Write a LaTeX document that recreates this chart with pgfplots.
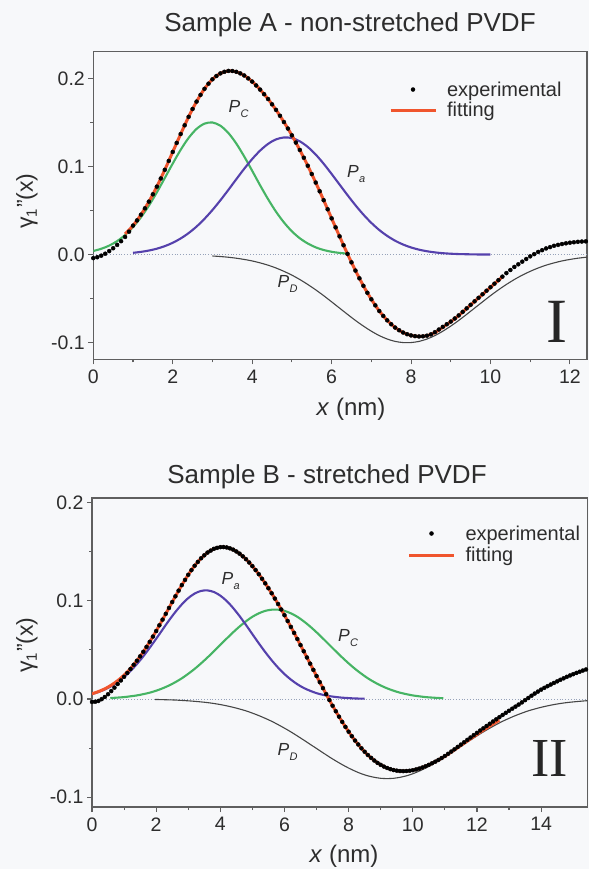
\documentclass[border=0pt]{standalone}
\usepackage{pgfplots}
\pgfplotsset{compat=1.18}
\usepackage{pgfplotstable}
\usepackage{fontspec}
\setmainfont{Liberation Sans}
\newfontfamily\romanfont{Liberation Serif}
\definecolor{bg}{RGB}{247,248,250}
\definecolor{axisgrey}{RGB}{95,95,95}
\definecolor{txt}{RGB}{45,45,45}
\definecolor{pcgreen}{RGB}{70,180,100}
\definecolor{pablue}{RGB}{85,65,172}
\definecolor{fitred}{RGB}{240,85,45}
\definecolor{pdgrey}{RGB}{70,70,70}
\definecolor{zerogrey}{RGB}{150,162,185}
\newcommand\Plab[1]{{\fontsize{17.5}{19}\selectfont\itshape P\kern0.3pt\raisebox{-5pt}{\fontsize{11}{12}\selectfont #1}}}

\pgfplotstableread{
x y
0.0 -0.0040
0.1 -0.0030
0.2 -0.0012
0.3 0.0010
0.4 0.0040
0.5 0.0072
0.6 0.0110
0.7 0.0152
0.8 0.0200
0.9 0.0260
1.0 0.0329
1.1 0.0388
1.2 0.0453
1.3 0.0525
1.4 0.0601
1.5 0.0684
1.6 0.0771
1.7 0.0864
1.8 0.0962
1.9 0.1063
2.0 0.1165
2.1 0.1267
2.2 0.1368
2.3 0.1467
2.4 0.1563
2.5 0.1652
2.6 0.1736
2.7 0.1812
2.8 0.1881
2.9 0.1939
3.0 0.1989
3.1 0.2026
3.2 0.2056
3.3 0.2074
3.4 0.2084
3.5 0.2083
3.6 0.2074
3.7 0.2056
3.8 0.2032
3.9 0.1999
4.0 0.1963
4.1 0.1919
4.2 0.1872
4.3 0.1820
4.4 0.1765
4.5 0.1705
4.6 0.1642
4.7 0.1575
4.8 0.1504
4.9 0.1430
5.0 0.1353
5.1 0.1271
5.2 0.1187
5.3 0.1099
5.4 0.1008
5.5 0.0914
5.6 0.0817
5.7 0.0718
5.8 0.0617
5.9 0.0514
6.0 0.0411
6.1 0.0309
6.2 0.0207
6.3 0.0106
6.4 0.0008
6.5 -0.0088
6.6 -0.0181
6.7 -0.0269
6.8 -0.0354
6.9 -0.0433
7.0 -0.0507
7.1 -0.0576
7.2 -0.0640
7.3 -0.0696
7.4 -0.0746
7.5 -0.0790
7.6 -0.0828
7.7 -0.0858
7.8 -0.0884
7.9 -0.0903
8.0 -0.0917
8.1 -0.0925
8.2 -0.0929
8.3 -0.0927
8.4 -0.0920
8.5 -0.0905
8.6 -0.0880
8.7 -0.0850
8.8 -0.0820
8.9 -0.0790
9.0 -0.0760
9.1 -0.0725
9.2 -0.0690
9.3 -0.0650
9.4 -0.0610
9.5 -0.0570
9.6 -0.0530
9.7 -0.0490
9.8 -0.0450
9.9 -0.0410
10.0 -0.0370
10.1 -0.0330
10.2 -0.0290
10.3 -0.0250
10.4 -0.0210
10.5 -0.0175
10.6 -0.0140
10.7 -0.0110
10.8 -0.0080
10.9 -0.0050
11.0 -0.0020
11.1 0.0005
11.2 0.0030
11.3 0.0050
11.4 0.0070
11.5 0.0085
11.6 0.0100
11.7 0.0110
11.8 0.0120
11.9 0.0128
12.0 0.0135
12.1 0.0140
12.2 0.0145
12.3 0.0148
12.4 0.0150
}\Aexp

\pgfplotstableread{
x y
0.8 0.0235
1.0 0.0329
1.2 0.0453
1.4 0.0601
1.6 0.0771
1.8 0.0962
2.0 0.1165
2.2 0.1368
2.4 0.1563
2.6 0.1736
2.8 0.1881
3.0 0.1989
3.2 0.2056
3.4 0.2084
3.6 0.2074
3.8 0.2032
4.0 0.1963
4.2 0.1872
4.4 0.1765
4.6 0.1642
4.8 0.1504
5.0 0.1353
5.2 0.1187
5.4 0.1008
5.6 0.0817
5.8 0.0617
6.0 0.0411
6.2 0.0207
6.4 0.0008
6.6 -0.0181
6.8 -0.0354
7.0 -0.0507
7.2 -0.0640
7.4 -0.0746
7.6 -0.0828
7.8 -0.0884
8.0 -0.0917
8.2 -0.0929
8.4 -0.0920
8.6 -0.0885
8.8 -0.0825
9.0 -0.0762
9.2 -0.0692
9.4 -0.0612
9.6 -0.0532
9.8 -0.0452
10.0 -0.0372
10.2 -0.0292
10.3 -0.0252
}\Afit

\pgfplotstableread{
x y
0 0.0041
0.2 0.0066
0.4 0.0102
0.6 0.0153
0.8 0.0222
1.0 0.0312
1.2 0.0423
1.4 0.0556
1.6 0.0706
1.8 0.0869
2.0 0.1033
2.2 0.1189
2.4 0.1324
2.6 0.1426
2.8 0.1486
3.0 0.1499
3.2 0.1462
3.4 0.1380
3.6 0.1260
3.8 0.1113
4.0 0.0951
4.2 0.0786
4.4 0.0629
4.6 0.0487
4.8 0.0365
5.0 0.0264
5.2 0.0185
5.4 0.0126
5.6 0.0082
5.8 0.0052
6.0 0.0032
6.2 0.0019
6.45 0.0009
}\APc

\pgfplotstableread{
x y
1.0 0.0020
1.2 0.0031
1.4 0.0046
1.6 0.0067
1.8 0.0096
2.0 0.0134
2.2 0.0183
2.4 0.0244
2.6 0.0318
2.8 0.0406
3.0 0.0506
3.2 0.0616
3.4 0.0734
3.6 0.0855
3.8 0.0974
4.0 0.1084
4.2 0.1180
4.4 0.1256
4.6 0.1307
4.8 0.1329
5.0 0.1322
5.2 0.1285
5.4 0.1221
5.6 0.1135
5.8 0.1031
6.0 0.0915
6.2 0.0795
6.4 0.0675
6.6 0.0560
6.8 0.0454
7.0 0.0360
7.2 0.0279
7.4 0.0212
7.6 0.0157
7.8 0.0114
8.0 0.0081
8.2 0.0056
8.4 0.0038
8.6 0.0025
8.8 0.0016
9.0 0.0010
9.2 0.0006
9.4 0.0004
9.6 0.0002
9.8 0.0001
10.0 0.0001
}\APa

\pgfplotstableread{
x y
3.0 -0.0016
3.2 -0.0022
3.4 -0.0030
3.6 -0.0041
3.8 -0.0055
4.0 -0.0072
4.2 -0.0094
4.4 -0.0120
4.6 -0.0152
4.8 -0.0190
5.0 -0.0233
5.2 -0.0283
5.4 -0.0339
5.6 -0.0400
5.8 -0.0466
6.0 -0.0536
6.2 -0.0607
6.4 -0.0678
6.6 -0.0747
6.8 -0.0811
7.0 -0.0869
7.2 -0.0919
7.4 -0.0958
7.6 -0.0985
7.8 -0.0998
8.0 -0.0998
8.2 -0.0985
8.4 -0.0958
8.6 -0.0919
8.8 -0.0869
9.0 -0.0811
9.2 -0.0747
9.4 -0.0678
9.6 -0.0607
9.8 -0.0536
10.0 -0.0466
10.2 -0.0400
10.4 -0.0339
10.6 -0.0283
10.8 -0.0233
11.0 -0.0190
11.2 -0.0152
11.4 -0.0120
11.6 -0.0094
11.8 -0.0072
12.0 -0.0055
12.2 -0.0041
12.45 -0.0028
}\APD

\pgfplotstableread{
x y
0.0 -0.0030
0.1 -0.0028
0.2 -0.0020
0.3 -0.0002
0.4 0.0020
0.5 0.0048
0.6 0.0080
0.7 0.0115
0.8 0.0152
0.9 0.0188
1.0 0.0225
1.1 0.0264
1.2 0.0305
1.3 0.0348
1.4 0.0389
1.5 0.0433
1.6 0.0480
1.7 0.0530
1.8 0.0581
1.9 0.0635
2.0 0.0691
2.1 0.0749
2.2 0.0807
2.3 0.0866
2.4 0.0926
2.5 0.0986
2.6 0.1044
2.7 0.1102
2.8 0.1158
2.9 0.1211
3.0 0.1263
3.1 0.1310
3.2 0.1355
3.3 0.1394
3.4 0.1431
3.5 0.1461
3.6 0.1489
3.7 0.1509
3.8 0.1527
3.9 0.1537
4.0 0.1544
4.1 0.1545
4.2 0.1541
4.3 0.1532
4.4 0.1519
4.5 0.1500
4.6 0.1478
4.7 0.1451
4.8 0.1422
4.9 0.1388
5.0 0.1351
5.1 0.1311
5.2 0.1269
5.3 0.1223
5.4 0.1176
5.5 0.1126
5.6 0.1075
5.7 0.1021
5.8 0.0966
5.9 0.0910
6.0 0.0852
6.1 0.0793
6.2 0.0733
6.3 0.0672
6.4 0.0610
6.5 0.0548
6.6 0.0485
6.7 0.0422
6.8 0.0359
6.9 0.0296
7.0 0.0233
7.1 0.0171
7.2 0.0110
7.3 0.0049
7.4 -0.0011
7.5 -0.0069
7.6 -0.0125
7.7 -0.0180
7.8 -0.0233
7.9 -0.0284
8.0 -0.0333
8.1 -0.0379
8.2 -0.0423
8.3 -0.0463
8.4 -0.0502
8.5 -0.0537
8.6 -0.0570
8.7 -0.0599
8.8 -0.0626
8.9 -0.0650
9.0 -0.0670
9.1 -0.0688
9.2 -0.0702
9.3 -0.0714
9.4 -0.0723
9.5 -0.0729
9.6 -0.0733
9.7 -0.0734
9.8 -0.0733
9.9 -0.0730
10.0 -0.0725
10.1 -0.0717
10.2 -0.0708
10.3 -0.0697
10.4 -0.0684
10.5 -0.0670
10.6 -0.0654
10.7 -0.0638
10.8 -0.0620
10.9 -0.0601
11.0 -0.0580
11.1 -0.0558
11.2 -0.0535
11.3 -0.0512
11.4 -0.0488
11.5 -0.0464
11.6 -0.0440
11.7 -0.0416
11.8 -0.0392
11.9 -0.0368
12.0 -0.0345
12.1 -0.0321
12.2 -0.0298
12.3 -0.0275
12.4 -0.0252
12.5 -0.0229
12.6 -0.0207
12.7 -0.0185
12.8 -0.0163
12.9 -0.0141
13.0 -0.0120
13.1 -0.0099
13.2 -0.0078
13.3 -0.0057
13.4 -0.0035
13.5 -0.0012
13.6 0.0010
13.7 0.0033
13.8 0.0055
13.9 0.0075
14.0 0.0095
14.1 0.0113
14.2 0.0130
14.3 0.0147
14.4 0.0163
14.5 0.0179
14.6 0.0195
14.7 0.0210
14.8 0.0225
14.9 0.0239
15.0 0.0252
15.1 0.0265
15.2 0.0277
15.3 0.0289
15.4 0.0300
}\Bexp

\pgfplotstableread{
x y
0.0 0.0053
0.2 0.0075
0.4 0.0103
0.6 0.0140
0.8 0.0186
1.0 0.0242
1.2 0.0310
1.4 0.0389
1.6 0.0480
1.8 0.0581
2.0 0.0691
2.2 0.0807
2.4 0.0926
2.6 0.1044
2.8 0.1158
3.0 0.1263
3.2 0.1355
3.4 0.1431
3.6 0.1489
3.8 0.1527
4.0 0.1544
4.2 0.1541
4.4 0.1519
4.6 0.1478
4.8 0.1422
5.0 0.1351
5.2 0.1269
5.4 0.1176
5.6 0.1075
5.8 0.0966
6.0 0.0852
6.2 0.0733
6.4 0.0610
6.6 0.0485
6.8 0.0359
7.0 0.0233
7.2 0.0110
7.4 -0.0011
7.6 -0.0125
7.8 -0.0233
8.0 -0.0333
8.2 -0.0423
8.4 -0.0502
8.6 -0.0570
8.8 -0.0626
9.0 -0.0670
9.2 -0.0702
9.4 -0.0723
9.6 -0.0733
9.8 -0.0733
10.0 -0.0725
10.2 -0.0708
10.4 -0.0684
10.6 -0.0654
10.8 -0.0620
11.0 -0.0583
11.2 -0.0540
11.4 -0.0495
11.6 -0.0450
11.8 -0.0405
12.0 -0.0360
12.2 -0.0317
12.4 -0.0275
12.6 -0.0235
12.7 -0.0216
}\Bfit

\pgfplotstableread{
x y
0.0 0.0050
0.2 0.0070
0.4 0.0097
0.6 0.0130
0.8 0.0172
1.0 0.0224
1.2 0.0285
1.4 0.0355
1.6 0.0434
1.8 0.0521
2.0 0.0612
2.2 0.0706
2.4 0.0799
2.6 0.0885
2.8 0.0962
3.0 0.1026
3.2 0.1072
3.4 0.1099
3.6 0.1104
3.8 0.1088
4.0 0.1051
4.2 0.0996
4.4 0.0925
4.6 0.0843
4.8 0.0753
5.0 0.0659
5.2 0.0566
5.4 0.0477
5.6 0.0394
5.8 0.0319
6.0 0.0253
6.2 0.0197
6.4 0.0150
6.6 0.0112
6.8 0.0083
7.0 0.0059
7.2 0.0042
7.4 0.0029
7.6 0.0020
7.8 0.0013
8.0 0.0009
8.2 0.0005
8.5 0.0003
}\BPa

\pgfplotstableread{
x y
0.57 0.0009
0.8 0.0014
1.0 0.0019
1.2 0.0027
1.4 0.0036
1.6 0.0049
1.8 0.0064
2.0 0.0084
2.2 0.0108
2.4 0.0137
2.6 0.0171
2.8 0.0210
3.0 0.0256
3.2 0.0306
3.4 0.0362
3.6 0.0422
3.8 0.0485
4.0 0.0550
4.2 0.0615
4.4 0.0678
4.6 0.0737
4.8 0.0790
5.0 0.0836
5.2 0.0871
5.4 0.0896
5.6 0.0908
5.8 0.0908
6.0 0.0896
6.2 0.0871
6.4 0.0836
6.6 0.0790
6.8 0.0737
7.0 0.0678
7.2 0.0615
7.4 0.0550
7.6 0.0485
7.8 0.0422
8.0 0.0362
8.2 0.0306
8.4 0.0256
8.6 0.0210
8.8 0.0171
9.0 0.0137
9.2 0.0108
9.4 0.0084
9.6 0.0064
9.8 0.0049
10.0 0.0036
10.2 0.0027
10.4 0.0019
10.6 0.0014
10.8 0.0010
10.95 0.0007
}\BPc

\pgfplotstableread{
x y
1.97 -0.0005
2.2 -0.0007
2.4 -0.0009
2.6 -0.0011
2.8 -0.0015
3.0 -0.0019
3.2 -0.0024
3.4 -0.0030
3.6 -0.0037
3.8 -0.0046
4.0 -0.0057
4.2 -0.0070
4.4 -0.0085
4.6 -0.0102
4.8 -0.0121
5.0 -0.0144
5.2 -0.0169
5.4 -0.0197
5.6 -0.0227
5.8 -0.0261
6.0 -0.0297
6.2 -0.0335
6.4 -0.0376
6.6 -0.0418
6.8 -0.0461
7.0 -0.0504
7.2 -0.0547
7.4 -0.0590
7.6 -0.0630
7.8 -0.0668
8.0 -0.0703
8.2 -0.0734
8.4 -0.0761
8.6 -0.0782
8.8 -0.0797
9.0 -0.0807
9.2 -0.0810
9.4 -0.0807
9.6 -0.0797
9.8 -0.0782
10.0 -0.0761
10.2 -0.0734
10.4 -0.0703
10.6 -0.0668
10.8 -0.0630
11.0 -0.0590
11.2 -0.0547
11.4 -0.0504
11.6 -0.0461
11.8 -0.0418
12.0 -0.0376
12.2 -0.0335
12.4 -0.0297
12.6 -0.0261
12.8 -0.0227
13.0 -0.0197
13.2 -0.0169
13.4 -0.0144
13.6 -0.0121
13.8 -0.0102
14.0 -0.0085
14.2 -0.0070
14.4 -0.0057
14.6 -0.0046
14.8 -0.0037
15.0 -0.0030
15.2 -0.0024
15.45 -0.0017
}\BPD

\pgfplotsset{
  panel/.style={
    scale only axis,
    axis line style={axisgrey, line width=1.3pt},
    tick style={axisgrey, line width=1.1pt},
    tick align=outside,
    xtick pos=left, ytick pos=left,
    major tick length=5pt, minor tick length=3pt,
    minor tick num=1,
    tick label style={font=\fontsize{19.5}{22}\selectfont, text=txt},
    xticklabel style={yshift=-2pt},
    ytick={-0.1,0,0.1,0.2},
    yticklabels={-0.1,0.0,0.1,0.2},
    legend cell align=left,
    reverse legend,
    legend image code/.code={\draw[##1] (0pt,0pt) -- (45pt,0pt);},
    legend style={draw=none, fill=none, inner sep=0pt, outer sep=0pt,
      column sep=10pt, font=\fontsize{20}{22}\selectfont, text=txt,
      nodes={inner sep=0pt}},
  },
  comp/.style={line width=2.1pt, forget plot, smooth},
  expstyle/.style={only marks, mark=*, mark size=2.0pt, black,
    legend image code/.code={\draw[##1] plot coordinates {(22.5pt,0pt)};}},
  fitstyle/.style={fitred, line width=3pt, smooth},
}

\begin{document}
\begin{tikzpicture}
\fill[bg] (0,0) rectangle (589pt,-869pt);
\useasboundingbox (0,0) rectangle (589pt,-869pt);

% ---------- Sample A ----------
\begin{axis}[panel,
  at={(93.3pt,-359.3pt)}, anchor=south west,
  width=493.7pt, height=307.6pt,
  xmin=0, xmax=12.43, ymin=-0.1188, ymax=0.2302,
  xtick={0,2,4,6,8,10,12}, xticklabels={0,2,4,6,8,10,12},
  legend style={at={(0.599,0.903)}, anchor=north west, row sep=4.7pt},
]
\addplot[zerogrey, dotted, line width=0.8pt, forget plot] coordinates {(0,0) (12.43,0)};
\addplot[comp, pcgreen] table {\APc};
\addplot[comp, pablue] table {\APa};
\addplot[pdgrey, line width=1.1pt, smooth, forget plot] table {\APD};
\addplot[fitstyle] table {\Afit};
\addlegendentry{fitting}
\addplot[expstyle] table {\Aexp};
\addlegendentry{experimental}
\node[anchor=base west, text=txt] at (axis cs:3.32,0.1608) {\Plab{C}};
\node[anchor=base west, text=txt] at (axis cs:6.30,0.0879) {\Plab{a}};
\node[anchor=base west, text=txt] at (axis cs:4.55,-0.0379) {\Plab{D}};
\node[text=black!85, font=\romanfont\fontsize{63}{63}\selectfont] at (axis cs:11.67,-0.0758) {I};
\end{axis}

% ---------- Sample B ----------
\begin{axis}[panel,
  at={(92pt,-807pt)}, anchor=south west,
  width=495.3pt, height=309pt,
  xmin=0, xmax=15.44, ymin=-0.1099, ymax=0.2044,
  xtick={0,2,4,6,8,10,12,14}, xticklabels={0,2,4,6,8,10,12,14},
  legend style={at={(0.637,0.911)}, anchor=north west, row sep=5.7pt},
]
\addplot[zerogrey, dotted, line width=0.8pt, forget plot] coordinates {(0,0) (15.44,0)};
\addplot[comp, pcgreen] table {\BPc};
\addplot[comp, pablue] table {\BPa};
\addplot[pdgrey, line width=1.1pt, smooth, forget plot] table {\BPD};
\addplot[fitstyle] table {\Bfit};
\addlegendentry{fitting}
\addplot[expstyle] table {\Bexp};
\addlegendentry{experimental}
\node[anchor=base west, text=txt] at (axis cs:3.93,0.116) {\Plab{a}};
\node[anchor=base west, text=txt] at (axis cs:7.56,0.0583) {\Plab{C}};
\node[anchor=base west, text=txt] at (axis cs:5.68,-0.057) {\Plab{D}};
\node[text=black!85, font=\romanfont\fontsize{55}{55}\selectfont] at (axis cs:14.26,-0.0603) {II};
\end{axis}

% titles and axis labels
\node[anchor=base, text=txt, font=\fontsize{26}{28}\selectfont] at (350pt,-32pt) {Sample A - non-stretched PVDF};
\node[anchor=base, text=txt, font=\fontsize{26}{28}\selectfont] at (327pt,-483.3pt) {Sample B - stretched PVDF};
\node[text=txt, font=\fontsize{24}{26}\selectfont] at (351pt,-409pt) {\textit{x} (nm)};
\node[text=txt, font=\fontsize{24}{26}\selectfont] at (344pt,-856pt) {\textit{x} (nm)};
\node[rotate=90, text=txt, font=\fontsize{23}{25}\selectfont] at (27pt,-201pt) {γ\raisebox{-4pt}{\fontsize{15}{16}\selectfont 1}\kern1pt"(x)};
\node[rotate=90, text=txt, font=\fontsize{23}{25}\selectfont] at (27pt,-645pt) {γ\raisebox{-4pt}{\fontsize{15}{16}\selectfont 1}\kern1pt"(x)};
\end{tikzpicture}
\end{document}
